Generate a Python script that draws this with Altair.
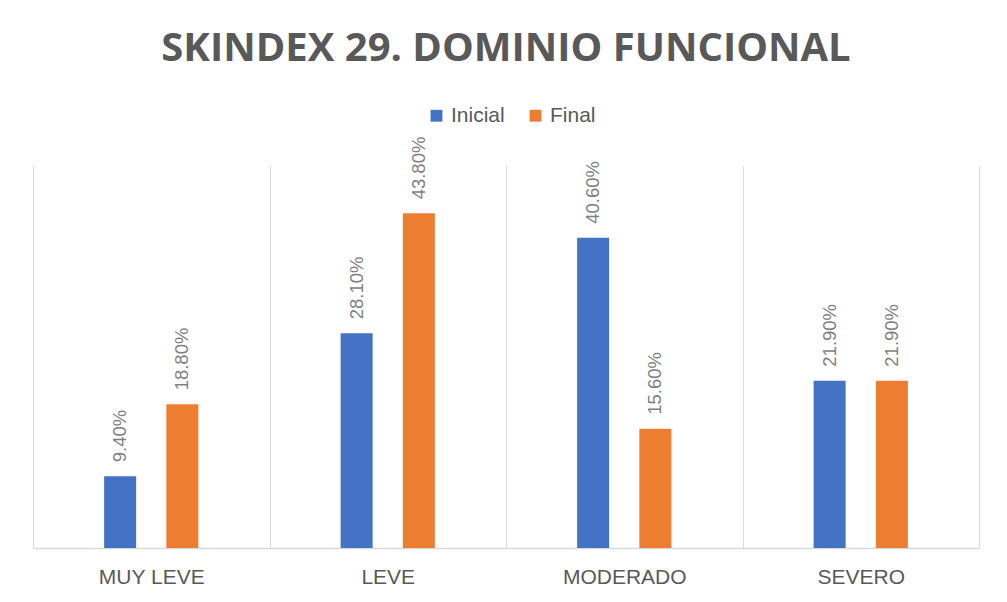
import altair as alt
import pandas as pd

categories = ["MUY LEVE", "LEVE", "MODERADO", "SEVERO"]
series = ["Inicial", "Final"]
inicial = [9.4, 28.1, 40.6, 21.9]
final = [18.8, 43.8, 15.6, 21.9]
colors = ["#4472C4", "#ED7D31"]

rows = []
for c, a, b in zip(categories, inicial, final):
    rows.append({"cat": c, "serie": "Inicial", "val": a / 100})
    rows.append({"cat": c, "serie": "Final", "val": b / 100})
df = pd.DataFrame(rows)

x = alt.X(
    "cat:N",
    sort=categories,
    scale=alt.Scale(paddingInner=0, paddingOuter=0),
    axis=alt.Axis(
        title=None, labelAngle=0, tickBand="extent", grid=True,
        gridColor="#d9d9d9", gridWidth=1, ticks=False,
        domainColor="#d9d9d9", domainWidth=1.5,
        labelFontSize=21, labelColor="#595959", labelPadding=18,
        labelFont="Liberation Sans",
    ),
)
xo = alt.XOffset("serie:N", sort=series,
                 scale=alt.Scale(paddingInner=0.2, paddingOuter=1))
y = alt.Y("val:Q", scale=alt.Scale(domain=[0, 0.5]), axis=None)

bars = alt.Chart(df).mark_bar(width=32).encode(
    x=x, xOffset=xo, y=y,
    color=alt.Color(
        "serie:N", sort=series,
        scale=alt.Scale(domain=series, range=colors),
        legend=alt.Legend(
            title=None, orient="none", legendX=393, legendY=-61,
            direction="horizontal", symbolType="square", symbolSize=140,
            symbolStrokeWidth=0, labelFontSize=21, labelColor="#595959",
            labelFont="Liberation Sans", columnPadding=20, labelOffset=4,
        ),
    ),
)

labels = alt.Chart(df).mark_text(
    angle=270, align="left", baseline="middle", dx=14,
    fontSize=18.5, color="#7f7f7f", font="Liberation Sans",
).encode(
    x=x, xOffset=xo, y=y,
    text=alt.Text("val:Q", format=".2%"),
)

chart = (
    alt.layer(bars, labels)
    .properties(
        width=946, height=382,
        padding={"left": 25, "top": 21, "right": 10, "bottom": 5},
        title=alt.Title(
            "SKINDEX 29. DOMINIO FUNCIONAL", fontSize=40, font="Open Sans",
            fontWeight="bold", color="#595959", offset=36, anchor="middle",
        ),
    )
    .configure_view(stroke=None)
)

chart.save("out.html", embed_options={"renderer": "svg", "actions": False})
